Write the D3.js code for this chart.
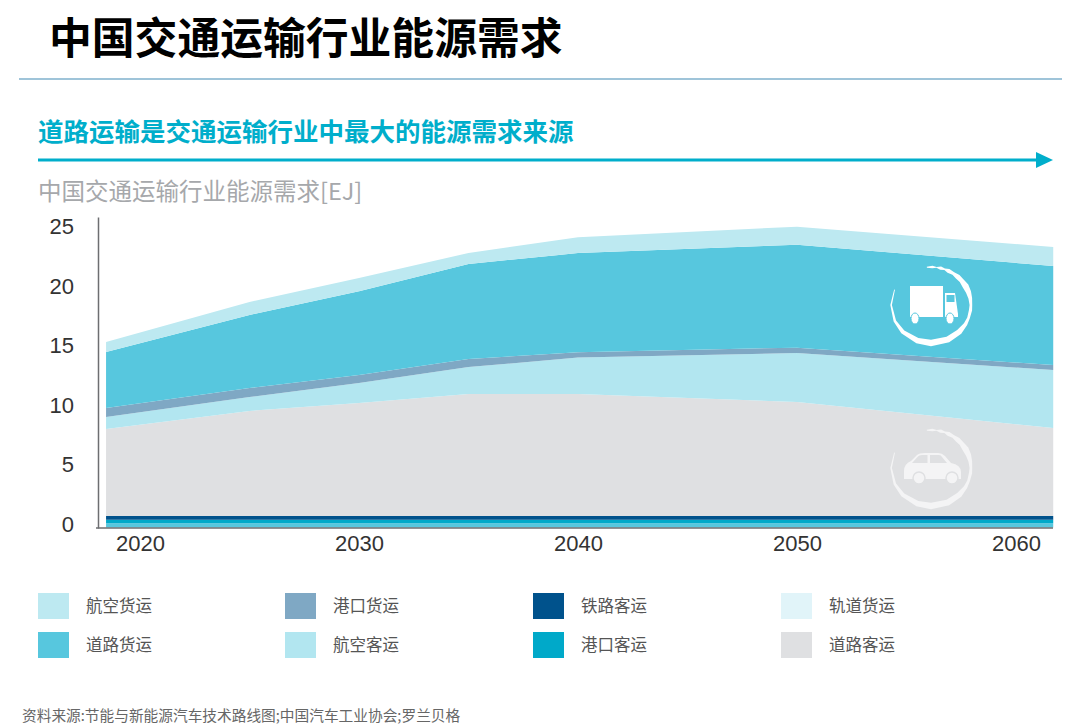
<!DOCTYPE html>
<html>
<head>
<meta charset="utf-8">
<script src="https://cdn.jsdelivr.net/npm/d3@7"></script>
<style>
  body { margin: 0; background: #fff; }
  svg { display: block; }
  text { font-family: "Noto Sans CJK SC", sans-serif; }
  .num text, text.num { font-family: "Liberation Sans", Arial, sans-serif; }
</style>
</head>
<body>
<svg width="1080" height="726"></svg>
<script>
const years = [2018.45, 2025, 2030, 2035, 2040, 2050, 2061.7];
const tickYears = [2020, 2030, 2040, 2050, 2060];
const tickValues = [0, 5, 10, 15, 20, 25];

// bottom to top
const railFreight = [0.05, 0.05, 0.05, 0.05, 0.05, 0.05, 0.05];
const stripBase = [0.35, 0.35, 0.35, 0.35, 0.35, 0.35, 0.35];
const portPassenger = [0.3, 0.3, 0.3, 0.3, 0.3, 0.3, 0.3];
const railPassenger = [0.3, 0.3, 0.3, 0.3, 0.3, 0.3, 0.3];
const roadPassenger = [7.3, 8.82, 9.49, 10.24, 10.24, 9.57, 7.39];
const airPassenger = [1.01, 1.17, 1.67, 2.26, 3.06, 4.11, 4.86];
const portFreight = [0.76, 0.75, 0.68, 0.68, 0.45, 0.45, 0.42];
const roadFreight = [4.7, 6.13, 7.02, 7.97, 8.31, 8.64, 8.31];
const airFreight = [0.83, 1.09, 1.12, 0.92, 1.34, 1.51, 1.59];

const colors = {
  railFreight: '#e1f4f9', stripBase: '#57c7de', portPassenger: '#00a9c9', railPassenger: '#00528c',
  roadPassenger: '#dfe0e2', airPassenger: '#b2e6f0', portFreight: '#7fa8c4',
  roadFreight: '#57c7de', airFreight: '#bde9f1'
};
const seriesValues = { railFreight, stripBase, portPassenger, railPassenger, roadPassenger, airPassenger, portFreight, roadFreight, airFreight };
const keys = Object.keys(seriesValues);

const legendNames = [
  ['航空货运', '港口货运', '铁路客运', '轨道货运'],
  ['道路货运', '航空客运', '港口客运', '道路客运']
];
const legendKeys = [
  ['airFreight', 'portFreight', 'railPassenger', 'railFreight'],
  ['roadFreight', 'airPassenger', 'portPassenger', 'roadPassenger']
];

const svg = d3.select('svg');

const x = d3.scaleLinear().domain([2020, 2060]).range([140, 1016]);
const y = d3.scaleLinear().domain([0, 26.09]).range([528, 217]);

// Headers
svg.append('text').attr('x', 49).attr('y', 54).attr('font-size', 42.8).attr('font-weight', 700)
  .attr('fill', '#000').text('中国交通运输行业能源需求');
svg.append('line').attr('x1', 19).attr('x2', 1062).attr('y1', 79).attr('y2', 79)
  .attr('stroke', '#7fb0cc').attr('stroke-width', 1.5);
svg.append('text').attr('x', 38).attr('y', 141).attr('font-size', 25.5).attr('font-weight', 700)
  .attr('fill', '#00aecb').text('道路运输是交通运输行业中最大的能源需求来源');
svg.append('line').attr('x1', 38).attr('x2', 1040).attr('y1', 160).attr('y2', 160)
  .attr('stroke', '#00aecb').attr('stroke-width', 3);
svg.append('path').attr('d', 'M1036,152L1053,160L1036,168Z').attr('fill', '#00aecb');
svg.append('text').attr('x', 38).attr('y', 199.5).attr('font-size', 23.5)
  .attr('fill', '#a6a8ab').text('中国交通运输行业能源需求[EJ]');

// Stacked areas
const table = years.map((year, i) => {
  const row = { year };
  keys.forEach(k => { row[k] = seriesValues[k][i]; });
  return row;
});
const area = d3.area().x(d => x(d.data.year)).y0(d => y(d[0])).y1(d => y(d[1]));
svg.append('g').selectAll('path').data(d3.stack().keys(keys)(table)).join('path')
  .attr('d', area).attr('fill', d => colors[d.key]);

// Axes
const yAxis = svg.append('g').attr('class', 'num').attr('transform', 'translate(98,0)')
  .call(d3.axisLeft(y).tickValues(tickValues).tickSize(0).tickPadding(24));
yAxis.select('.domain').attr('stroke', '#6d6e71').attr('stroke-width', 1.5);
yAxis.selectAll('text').attr('font-size', 22).attr('fill', '#333').attr('dy', '0.16em');

const xAxis = svg.append('g').attr('class', 'num').attr('transform', 'translate(0,528)')
  .call(d3.axisBottom(x).tickValues(tickYears).tickFormat(d3.format('d')).tickSize(0).tickPadding(7));
xAxis.select('.domain').remove();
xAxis.selectAll('text').attr('font-size', 22).attr('fill', '#333');
svg.append('line').attr('x1', 96).attr('x2', 1053).attr('y1', 528).attr('y2', 528)
  .attr('stroke', '#6d6e71').attr('stroke-width', 1.5);

// Brush ring around the icons
const ringAngles = [-66, -90, -115, -135, -160, -180, -205, -225, -240, -250, -262, -270, -280, -290, -300, -310, -318, -326, -334, -340, -346, -352, -358, -366];
const ringWidths = [0.8, 1.5, 2.5, 4, 5.5, 6.5, 6, 5.5, 3.5, 2.5, 3, 2.5, 3.5, 5, 6, 4.5, 5, 3, 4, 1.5, 3.5, 1, 2.5, 1];
const ring = d3.areaRadial()
  .angle(d => d[0] * Math.PI / 180)
  .innerRadius(d => 38 - d[1] / 2)
  .outerRadius(d => 38 + d[1] / 2);
const ringData = ringAngles.map((a, i) => [a, ringWidths[i]]);

function drawRing(cx, cy, fill) {
  svg.append('path').attr('d', ring(ringData)).attr('fill', fill)
    .attr('transform', `translate(${cx},${cy}) scale(1.05,1)`);
}

// Truck
drawRing(931, 305, '#fff');
const truck = svg.append('g').attr('fill', '#fff');
truck.append('rect').attr('x', 910).attr('y', 286).attr('width', 33).attr('height', 31);
truck.append('path').attr('d', 'M945,293H955L958,314V317H945Z');
truck.append('rect').attr('x', 946.5).attr('y', 295).attr('width', 8).attr('height', 7).attr('fill', '#57c7de');
truck.selectAll('ellipse').data([915, 950]).join('ellipse')
  .attr('cx', d => d).attr('cy', 318.5).attr('rx', 4).attr('ry', 5.5)
  .attr('stroke', '#57c7de').attr('stroke-width', 1);

// Car
drawRing(931, 468, '#f4f4f5');
const car = svg.append('g').attr('fill', '#f4f4f5');
car.append('path').attr('d', 'M904,471Q904,464 911,461L917,455Q919,453 925,453H938Q942,453 945,456L951,463Q961,465 961,472V479H904Z');
car.append('path').attr('d', 'M912,463L918,456.5Q919,455 922,455H927.5V463Z').attr('fill', '#dfe0e2');
car.append('path').attr('d', 'M930,455H939Q941,455 942,457L947,463H930Z').attr('fill', '#dfe0e2');
car.selectAll('circle').data([919, 952]).join('circle')
  .attr('cx', d => d).attr('cy', 478).attr('r', 6)
  .attr('stroke', '#dfe0e2').attr('stroke-width', 1.5);

// Legend
const legendX = [38, 285, 533, 781];
const legendY = [593, 632];
legendNames.forEach((names, r) => {
  names.forEach((name, c) => {
    svg.append('rect').attr('x', legendX[c]).attr('y', legendY[r]).attr('width', 31).attr('height', 26)
      .attr('fill', colors[legendKeys[r][c]]);
    svg.append('text').attr('x', legendX[c] + 48).attr('y', legendY[r] + 18.5).attr('font-size', 16.5)
      .attr('fill', '#555').text(name);
  });
});

// Source
svg.append('text').attr('x', 22).attr('y', 721).attr('font-size', 14.7).attr('fill', '#666')
  .text('资料来源:节能与新能源汽车技术路线图;中国汽车工业协会;罗兰贝格');
</script>
</body>
</html>
